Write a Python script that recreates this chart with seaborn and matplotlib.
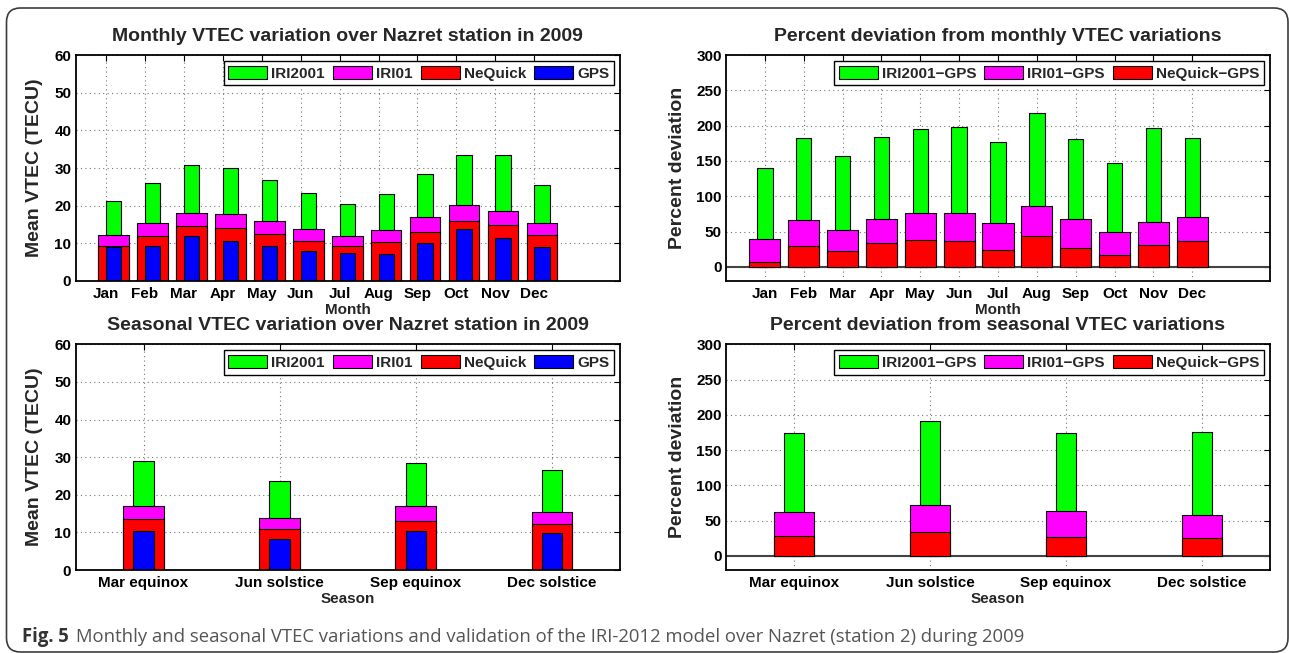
import numpy as np
import matplotlib
matplotlib.use("Agg")
import matplotlib.pyplot as plt
import seaborn as sns
from matplotlib.patches import Patch, FancyBboxPatch
from matplotlib.transforms import IdentityTransform

# ---------------- data ----------------
months = ["Jan", "Feb", "Mar", "Apr", "May", "Jun", "Jul", "Aug", "Sep", "Oct", "Nov", "Dec"]
seasons = ["Mar equinox", "Jun solstice", "Sep equinox", "Dec solstice"]

# Monthly mean VTEC (TECU)
iri2001_m = [21.2, 26.1, 30.8, 30.0, 26.9, 23.3, 20.5, 23.0, 28.5, 33.4, 33.4, 25.4]
iri01_m = [12.3, 15.3, 18.1, 17.7, 16.0, 13.7, 12.0, 13.5, 17.0, 20.1, 18.5, 15.3]
nequick_m = [9.3, 12.0, 14.5, 14.1, 12.5, 10.6, 9.2, 10.3, 12.9, 16.0, 14.8, 12.2]
gps_m = [8.9, 9.3, 12.0, 10.6, 9.3, 8.0, 7.4, 7.3, 10.2, 13.7, 11.4, 9.0]

# Monthly percent deviation
iri2001_gps_m = [140.5, 182.7, 157.6, 184.1, 195.5, 198.3, 176.5, 218.2, 181.7, 146.7, 196.9, 183.1]
iri01_gps_m = [39.3, 65.8, 52.1, 67.7, 75.7, 75.7, 61.5, 85.7, 67.7, 48.7, 62.9, 70.0]
nequick_gps_m = [6.2, 29.8, 21.8, 33.1, 37.4, 36.0, 23.7, 43.5, 27.0, 16.6, 30.8, 36.9]

# Seasonal mean VTEC (TECU)
iri2001_s = [28.9, 23.6, 28.4, 26.7]
iri01_s = [17.0, 13.9, 16.9, 15.4]
nequick_s = [13.5, 10.8, 13.0, 12.1]
gps_s = [10.5, 8.2, 10.4, 9.8]

# Seasonal percent deviation
iri2001_gps_s = [173.8, 190.8, 174.8, 175.2]
iri01_gps_s = [61.9, 71.8, 63.8, 58.6]
nequick_gps_s = [28.3, 33.5, 26.9, 25.5]

vtec_labels = ["IRI2001", "IRI01", "NeQuick", "GPS"]
dev_labels = ["IRI2001\u2212GPS", "IRI01\u2212GPS", "NeQuick\u2212GPS"]
caption_bold = "Fig. 5"
caption_text = ("Monthly and seasonal VTEC variations and validation of the IRI-2012 model "
                "over Nazret (station 2) during 2009")

# ---------------- style ----------------
sns.set_theme(style="white")
plt.rcParams["font.family"] = ["Liberation Sans", "DejaVu Sans"]
plt.rcParams["font.weight"] = "bold"
plt.rcParams["axes.titleweight"] = "bold"
plt.rcParams["axes.labelweight"] = "bold"

GREEN, MAGENTA, RED, BLUE = "#00ff00", "#ff00ff", "#ff0000", "#0000ff"

W, H = 1289, 653
fig = plt.figure(figsize=(W / 100, H / 100), dpi=100)
fig.patch.set_facecolor("white")


def px_axes(x0, y0, x1, y1):
    return fig.add_axes([x0 / W, 1 - y1 / H, (x1 - x0) / W, (y1 - y0) / H])


ax_tl = px_axes(75.5, 55, 620, 281)
ax_tr = px_axes(726, 55, 1270, 281)
ax_bl = px_axes(75.5, 344.3, 620, 570)
ax_br = px_axes(726, 344.3, 1270, 570)


def draw_bars(ax, pos, series, widths, colors):
    for vals, w, c in zip(series, widths, colors):
        sns.barplot(x=pos, y=vals, native_scale=True, orient="x", width=w,
                    color=c, saturation=1, edgecolor="black", linewidth=0.8,
                    errorbar=None, ax=ax)


def style(ax, ticks, ticklabels, xlim, ylim, yticks, title, xlabel, ylabel,
          ylabel_x, labels, colors):
    ax.set_xlim(xlim)
    ax.set_ylim(ylim)
    ax.set_xticks(ticks)
    ax.set_xticklabels(ticklabels, fontsize=11, fontweight="bold")
    ax.set_yticks(yticks)
    ax.set_yticklabels([str(v) for v in yticks], fontsize=11, fontweight="bold")
    ax.tick_params(direction="in", length=4, width=0.8, top=True, right=True,
                   colors="black")
    ax.tick_params(axis="x", pad=4)
    ax.tick_params(axis="y", pad=3)
    ax.grid(True, linestyle=(0, (1, 3)), color="#777777", linewidth=0.8)
    ax.set_axisbelow(True)
    for sp in ax.spines.values():
        sp.set_visible(True)
        sp.set_color("black")
        sp.set_linewidth(1.3)
    ax.set_title(title, fontsize=14, fontweight="bold", pad=10.3)
    ax.set_xlabel(xlabel, fontsize=11, fontweight="bold")
    ax.xaxis.set_label_coords(0.5, -0.097)
    ax.set_ylabel(ylabel, fontsize=14, fontweight="bold")
    ax.yaxis.set_label_coords(ylabel_x, 0.5)
    handles = [Patch(facecolor=c, edgecolor="black", linewidth=0.8, label=l)
               for l, c in zip(labels, colors)]
    leg = ax.legend(handles=handles, loc="upper right", ncol=len(handles),
                    frameon=True, fancybox=False, edgecolor="black", framealpha=1,
                    prop={"size": 11, "weight": "bold"}, handlelength=2.55,
                    handleheight=0.98, handletextpad=0.25, columnspacing=0.55,
                    borderpad=0.3, borderaxespad=0.4)
    leg.get_frame().set_linewidth(1.0)


mpos = np.arange(1, len(months) + 1)
spos = np.arange(1, len(seasons) + 1)

# top-left: monthly VTEC (bars shifted right of the ticks, as in the original)
draw_bars(ax_tl, mpos + 0.2, [iri2001_m, iri01_m, nequick_m, gps_m],
          [0.4, 0.78, 0.78, 0.4], [GREEN, MAGENTA, RED, BLUE])
style(ax_tl, mpos, months, (0.22, 14.2), (0, 60), list(range(0, 61, 10)),
      "Monthly VTEC variation over Nazret station in 2009", "Month",
      "Mean VTEC (TECU)", -0.059, vtec_labels, [GREEN, MAGENTA, RED, BLUE])

# top-right: monthly percent deviation
ax_tr.axhline(0, color="#444444", lw=1.5, zorder=0.8)
draw_bars(ax_tr, mpos, [iri2001_gps_m, iri01_gps_m, nequick_gps_m],
          [0.4, 0.8, 0.8], [GREEN, MAGENTA, RED])
style(ax_tr, mpos, months, (0, 14), (-20, 300), list(range(0, 301, 50)),
      "Percent deviation from monthly VTEC variations", "Month",
      "Percent deviation", -0.073, dev_labels, [GREEN, MAGENTA, RED])

# bottom-left: seasonal VTEC
draw_bars(ax_bl, spos, [iri2001_s, iri01_s, nequick_s, gps_s],
          [0.15, 0.3, 0.3, 0.15], [GREEN, MAGENTA, RED, BLUE])
style(ax_bl, spos, seasons, (0.5, 4.5), (0, 60), list(range(0, 61, 10)),
      "Seasonal VTEC variation over Nazret station in 2009", "Season",
      "Mean VTEC (TECU)", -0.059, vtec_labels, [GREEN, MAGENTA, RED, BLUE])

# bottom-right: seasonal percent deviation
ax_br.axhline(0, color="#444444", lw=1.5, zorder=0.8)
draw_bars(ax_br, spos, [iri2001_gps_s, iri01_gps_s, nequick_gps_s],
          [0.15, 0.3, 0.3], [GREEN, MAGENTA, RED])
style(ax_br, spos, seasons, (0.5, 4.5), (-20, 300), list(range(0, 301, 50)),
      "Percent deviation from seasonal VTEC variations", "Season",
      "Percent deviation", -0.073, dev_labels, [GREEN, MAGENTA, RED])

# rounded frame around the figure
frame = FancyBboxPatch((6.5, 1.0), 1288 - 6.5, 645 - 1.0,
                       boxstyle="round,pad=0,rounding_size=14",
                       transform=IdentityTransform(), fill=False,
                       edgecolor="#3c3c3c", linewidth=1.2)
fig.add_artist(frame)

# caption: fitted so that it spans x = 22 .. 1028 px like the original
cap_family = ["Open Sans", "DejaVu Sans"]
cap_x0, cap_x1, cap_base = 22.0, 1028.0, 642.0
renderer = fig.canvas.get_renderer()


def place_caption(fs):
    a = fig.text(cap_x0 / W, 1 - cap_base / H, caption_bold, fontsize=fs,
                 fontweight="bold", family=cap_family, color="#333333", va="baseline")
    bb = a.get_window_extent(renderer=renderer)
    b = fig.text((bb.x1 + 0.38 * fs * 100 / 72) / W, 1 - cap_base / H, caption_text,
                 fontsize=fs, fontweight="normal", family=cap_family,
                 color="#555555", va="baseline")
    return a, b


fs = 12.5
for _ in range(3):
    a, b = place_caption(fs)
    right = b.get_window_extent(renderer=renderer).x1
    a.remove()
    b.remove()
    fs = fs * (cap_x1 - cap_x0) / (right - cap_x0)
place_caption(fs)

fig.savefig("out.png", dpi=100, facecolor="white")
